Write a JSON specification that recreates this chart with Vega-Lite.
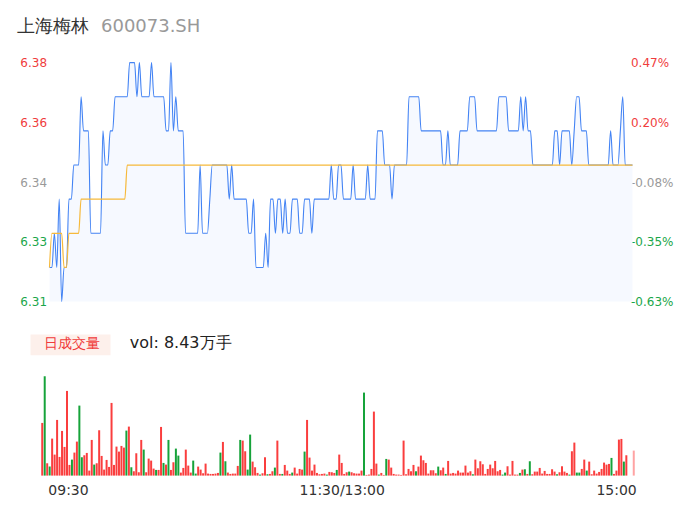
{
"$schema": "https://vega.github.io/schema/vega-lite/v6.json",
"padding": {"left": 16, "top": 17.6, "right": 5, "bottom": 5},
"background": "white",
"bounds": "flush",
"spacing": 74,
"config": {"view": {"stroke": null}, "font": "DejaVu Sans", "axis": {"grid": false, "domain": false, "ticks": false, "tickSize": 0, "title": null}},
"datasets": {
"price": [
{"i":0,"p":6.32,"a":6.32},{"i":1,"p":6.32,"a":6.33},{"i":2,"p":6.33,"a":6.33},{"i":3,"p":6.32,"a":6.33},{"i":4,"p":6.34,"a":6.33},{"i":5,"p":6.31,"a":6.33},{"i":6,"p":6.32,"a":6.32},{"i":7,"p":6.32,"a":6.32},{"i":8,"p":6.34,"a":6.33},{"i":9,"p":6.34,"a":6.33},
{"i":10,"p":6.35,"a":6.33},{"i":11,"p":6.35,"a":6.33},{"i":12,"p":6.35,"a":6.33},{"i":13,"p":6.37,"a":6.34},{"i":14,"p":6.36,"a":6.34},{"i":15,"p":6.36,"a":6.34},{"i":16,"p":6.36,"a":6.34},{"i":17,"p":6.33,"a":6.34},{"i":18,"p":6.33,"a":6.34},{"i":19,"p":6.33,"a":6.34},
{"i":20,"p":6.33,"a":6.34},{"i":21,"p":6.33,"a":6.34},{"i":22,"p":6.36,"a":6.34},{"i":23,"p":6.35,"a":6.34},{"i":24,"p":6.35,"a":6.34},{"i":25,"p":6.36,"a":6.34},{"i":26,"p":6.36,"a":6.34},{"i":27,"p":6.37,"a":6.34},{"i":28,"p":6.37,"a":6.34},{"i":29,"p":6.37,"a":6.34},
{"i":30,"p":6.37,"a":6.34},{"i":31,"p":6.37,"a":6.34},{"i":32,"p":6.37,"a":6.35},{"i":33,"p":6.38,"a":6.35},{"i":34,"p":6.38,"a":6.35},{"i":35,"p":6.38,"a":6.35},{"i":36,"p":6.37,"a":6.35},{"i":37,"p":6.38,"a":6.35},{"i":38,"p":6.37,"a":6.35},{"i":39,"p":6.37,"a":6.35},
{"i":40,"p":6.37,"a":6.35},{"i":41,"p":6.37,"a":6.35},{"i":42,"p":6.38,"a":6.35},{"i":43,"p":6.37,"a":6.35},{"i":44,"p":6.37,"a":6.35},{"i":45,"p":6.37,"a":6.35},{"i":46,"p":6.37,"a":6.35},{"i":47,"p":6.37,"a":6.35},{"i":48,"p":6.36,"a":6.35},{"i":49,"p":6.36,"a":6.35},
{"i":50,"p":6.38,"a":6.35},{"i":51,"p":6.36,"a":6.35},{"i":52,"p":6.37,"a":6.35},{"i":53,"p":6.36,"a":6.35},{"i":54,"p":6.36,"a":6.35},{"i":55,"p":6.36,"a":6.35},{"i":56,"p":6.33,"a":6.35},{"i":57,"p":6.33,"a":6.35},{"i":58,"p":6.33,"a":6.35},{"i":59,"p":6.33,"a":6.35},
{"i":60,"p":6.33,"a":6.35},{"i":61,"p":6.33,"a":6.35},{"i":62,"p":6.35,"a":6.35},{"i":63,"p":6.33,"a":6.35},{"i":64,"p":6.33,"a":6.35},{"i":65,"p":6.33,"a":6.35},{"i":66,"p":6.34,"a":6.35},{"i":67,"p":6.35,"a":6.35},{"i":68,"p":6.35,"a":6.35},{"i":69,"p":6.35,"a":6.35},
{"i":70,"p":6.35,"a":6.35},{"i":71,"p":6.35,"a":6.35},{"i":72,"p":6.35,"a":6.35},{"i":73,"p":6.35,"a":6.35},{"i":74,"p":6.34,"a":6.35},{"i":75,"p":6.35,"a":6.35},{"i":76,"p":6.34,"a":6.35},{"i":77,"p":6.34,"a":6.35},{"i":78,"p":6.34,"a":6.35},{"i":79,"p":6.34,"a":6.35},
{"i":80,"p":6.34,"a":6.35},{"i":81,"p":6.34,"a":6.35},{"i":82,"p":6.33,"a":6.35},{"i":83,"p":6.33,"a":6.35},{"i":84,"p":6.34,"a":6.35},{"i":85,"p":6.32,"a":6.35},{"i":86,"p":6.32,"a":6.35},{"i":87,"p":6.32,"a":6.35},{"i":88,"p":6.32,"a":6.35},{"i":89,"p":6.33,"a":6.35},
{"i":90,"p":6.32,"a":6.35},{"i":91,"p":6.34,"a":6.35},{"i":92,"p":6.34,"a":6.35},{"i":93,"p":6.33,"a":6.35},{"i":94,"p":6.34,"a":6.35},{"i":95,"p":6.34,"a":6.35},{"i":96,"p":6.33,"a":6.35},{"i":97,"p":6.34,"a":6.35},{"i":98,"p":6.33,"a":6.35},{"i":99,"p":6.33,"a":6.35},
{"i":100,"p":6.34,"a":6.35},{"i":101,"p":6.34,"a":6.35},{"i":102,"p":6.34,"a":6.35},{"i":103,"p":6.33,"a":6.35},{"i":104,"p":6.33,"a":6.35},{"i":105,"p":6.34,"a":6.35},{"i":106,"p":6.34,"a":6.35},{"i":107,"p":6.34,"a":6.35},{"i":108,"p":6.33,"a":6.35},{"i":109,"p":6.34,"a":6.35},
{"i":110,"p":6.34,"a":6.35},{"i":111,"p":6.34,"a":6.35},{"i":112,"p":6.34,"a":6.35},{"i":113,"p":6.34,"a":6.35},{"i":114,"p":6.34,"a":6.35},{"i":115,"p":6.34,"a":6.35},{"i":116,"p":6.35,"a":6.35},{"i":117,"p":6.34,"a":6.35},{"i":118,"p":6.34,"a":6.35},{"i":119,"p":6.35,"a":6.35},
{"i":120,"p":6.35,"a":6.35},{"i":121,"p":6.34,"a":6.35},{"i":122,"p":6.34,"a":6.35},{"i":123,"p":6.34,"a":6.35},{"i":124,"p":6.34,"a":6.35},{"i":125,"p":6.35,"a":6.35},{"i":126,"p":6.34,"a":6.35},{"i":127,"p":6.34,"a":6.35},{"i":128,"p":6.34,"a":6.35},{"i":129,"p":6.34,"a":6.35},
{"i":130,"p":6.34,"a":6.35},{"i":131,"p":6.35,"a":6.35},{"i":132,"p":6.34,"a":6.35},{"i":133,"p":6.34,"a":6.35},{"i":134,"p":6.34,"a":6.35},{"i":135,"p":6.36,"a":6.35},{"i":136,"p":6.36,"a":6.35},{"i":137,"p":6.36,"a":6.35},{"i":138,"p":6.35,"a":6.35},{"i":139,"p":6.35,"a":6.35},
{"i":140,"p":6.35,"a":6.35},{"i":141,"p":6.34,"a":6.35},{"i":142,"p":6.35,"a":6.35},{"i":143,"p":6.35,"a":6.35},{"i":144,"p":6.35,"a":6.35},{"i":145,"p":6.35,"a":6.35},{"i":146,"p":6.35,"a":6.35},{"i":147,"p":6.35,"a":6.35},{"i":148,"p":6.37,"a":6.35},{"i":149,"p":6.37,"a":6.35},
{"i":150,"p":6.37,"a":6.35},{"i":151,"p":6.37,"a":6.35},{"i":152,"p":6.37,"a":6.35},{"i":153,"p":6.36,"a":6.35},{"i":154,"p":6.36,"a":6.35},{"i":155,"p":6.36,"a":6.35},{"i":156,"p":6.36,"a":6.35},{"i":157,"p":6.36,"a":6.35},{"i":158,"p":6.36,"a":6.35},{"i":159,"p":6.36,"a":6.35},
{"i":160,"p":6.36,"a":6.35},{"i":161,"p":6.36,"a":6.35},{"i":162,"p":6.35,"a":6.35},{"i":163,"p":6.35,"a":6.35},{"i":164,"p":6.36,"a":6.35},{"i":165,"p":6.35,"a":6.35},{"i":166,"p":6.35,"a":6.35},{"i":167,"p":6.35,"a":6.35},{"i":168,"p":6.35,"a":6.35},{"i":169,"p":6.36,"a":6.35},
{"i":170,"p":6.36,"a":6.35},{"i":171,"p":6.36,"a":6.35},{"i":172,"p":6.36,"a":6.35},{"i":173,"p":6.37,"a":6.35},{"i":174,"p":6.37,"a":6.35},{"i":175,"p":6.37,"a":6.35},{"i":176,"p":6.36,"a":6.35},{"i":177,"p":6.36,"a":6.35},{"i":178,"p":6.36,"a":6.35},{"i":179,"p":6.36,"a":6.35},
{"i":180,"p":6.36,"a":6.35},{"i":181,"p":6.36,"a":6.35},{"i":182,"p":6.36,"a":6.35},{"i":183,"p":6.36,"a":6.35},{"i":184,"p":6.36,"a":6.35},{"i":185,"p":6.37,"a":6.35},{"i":186,"p":6.37,"a":6.35},{"i":187,"p":6.37,"a":6.35},{"i":188,"p":6.37,"a":6.35},{"i":189,"p":6.36,"a":6.35},
{"i":190,"p":6.36,"a":6.35},{"i":191,"p":6.36,"a":6.35},{"i":192,"p":6.36,"a":6.35},{"i":193,"p":6.36,"a":6.35},{"i":194,"p":6.37,"a":6.35},{"i":195,"p":6.36,"a":6.35},{"i":196,"p":6.37,"a":6.35},{"i":197,"p":6.36,"a":6.35},{"i":198,"p":6.36,"a":6.35},{"i":199,"p":6.35,"a":6.35},
{"i":200,"p":6.35,"a":6.35},{"i":201,"p":6.35,"a":6.35},{"i":202,"p":6.35,"a":6.35},{"i":203,"p":6.35,"a":6.35},{"i":204,"p":6.35,"a":6.35},{"i":205,"p":6.35,"a":6.35},{"i":206,"p":6.35,"a":6.35},{"i":207,"p":6.35,"a":6.35},{"i":208,"p":6.36,"a":6.35},{"i":209,"p":6.36,"a":6.35},
{"i":210,"p":6.35,"a":6.35},{"i":211,"p":6.36,"a":6.35},{"i":212,"p":6.36,"a":6.35},{"i":213,"p":6.36,"a":6.35},{"i":214,"p":6.36,"a":6.35},{"i":215,"p":6.35,"a":6.35},{"i":216,"p":6.36,"a":6.35},{"i":217,"p":6.37,"a":6.35},{"i":218,"p":6.37,"a":6.35},{"i":219,"p":6.36,"a":6.35},
{"i":220,"p":6.36,"a":6.35},{"i":221,"p":6.36,"a":6.35},{"i":222,"p":6.35,"a":6.35},{"i":223,"p":6.35,"a":6.35},{"i":224,"p":6.35,"a":6.35},{"i":225,"p":6.35,"a":6.35},{"i":226,"p":6.35,"a":6.35},{"i":227,"p":6.35,"a":6.35},{"i":228,"p":6.35,"a":6.35},{"i":229,"p":6.35,"a":6.35},
{"i":230,"p":6.35,"a":6.35},{"i":231,"p":6.36,"a":6.35},{"i":232,"p":6.35,"a":6.35},{"i":233,"p":6.35,"a":6.35},{"i":234,"p":6.35,"a":6.35},{"i":235,"p":6.36,"a":6.35},{"i":236,"p":6.37,"a":6.35},{"i":237,"p":6.35,"a":6.35},{"i":238,"p":6.35,"a":6.35},{"i":239,"p":6.35,"a":6.35},
{"i":240,"p":6.35,"a":6.35}
],
"vol": [
{"i":0,"v":158,"c":"r"},{"i":1,"v":298,"c":"g"},{"i":2,"v":37,"c":"r"},{"i":3,"v":27,"c":"g"},{"i":4,"v":111,"c":"r"},{"i":5,"v":63,"c":"r"},{"i":6,"v":167,"c":"r"},{"i":7,"v":56,"c":"r"},{"i":8,"v":134,"c":"r"},{"i":9,"v":86,"c":"r"},
{"i":10,"v":254,"c":"r"},{"i":11,"v":32,"c":"r"},{"i":12,"v":48,"c":"g"},{"i":13,"v":69,"c":"r"},{"i":14,"v":102,"c":"r"},{"i":15,"v":210,"c":"g"},{"i":16,"v":55,"c":"g"},{"i":17,"v":61,"c":"r"},{"i":18,"v":68,"c":"r"},{"i":19,"v":15,"c":"r"},
{"i":20,"v":107,"c":"r"},{"i":21,"v":33,"c":"g"},{"i":22,"v":37,"c":"r"},{"i":23,"v":136,"c":"r"},{"i":24,"v":59,"c":"r"},{"i":25,"v":18,"c":"r"},{"i":26,"v":47,"c":"r"},{"i":27,"v":26,"c":"r"},{"i":28,"v":218,"c":"r"},{"i":29,"v":32,"c":"r"},
{"i":30,"v":87,"c":"r"},{"i":31,"v":72,"c":"r"},{"i":32,"v":89,"c":"r"},{"i":33,"v":84,"c":"r"},{"i":34,"v":135,"c":"g"},{"i":35,"v":147,"c":"r"},{"i":36,"v":25,"c":"g"},{"i":37,"v":13,"c":"r"},{"i":38,"v":67,"c":"r"},{"i":39,"v":10,"c":"r"},
{"i":40,"v":107,"c":"r"},{"i":41,"v":78,"c":"g"},{"i":42,"v":10,"c":"r"},{"i":43,"v":51,"c":"r"},{"i":44,"v":45,"c":"r"},{"i":45,"v":21,"c":"r"},{"i":46,"v":17,"c":"g"},{"i":47,"v":17,"c":"r"},{"i":48,"v":146,"c":"r"},{"i":49,"v":38,"c":"g"},
{"i":50,"v":33,"c":"r"},{"i":51,"v":107,"c":"g"},{"i":52,"v":17,"c":"r"},{"i":53,"v":40,"c":"r"},{"i":54,"v":81,"c":"g"},{"i":55,"v":60,"c":"g"},{"i":56,"v":9,"c":"r"},{"i":57,"v":23,"c":"r"},{"i":58,"v":78,"c":"r"},{"i":59,"v":30,"c":"r"},
{"i":60,"v":9,"c":"r"},{"i":61,"v":45,"c":"g"},{"i":62,"v":6,"c":"g"},{"i":63,"v":27,"c":"r"},{"i":64,"v":18,"c":"r"},{"i":65,"v":7,"c":"r"},{"i":66,"v":36,"c":"r"},{"i":67,"v":6,"c":"r"},{"i":68,"v":5,"c":"r"},{"i":69,"v":5,"c":"r"},
{"i":70,"v":6,"c":"r"},{"i":71,"v":8,"c":"r"},{"i":72,"v":69,"c":"g"},{"i":73,"v":101,"c":"r"},{"i":74,"v":43,"c":"g"},{"i":75,"v":9,"c":"r"},{"i":76,"v":5,"c":"r"},{"i":77,"v":6,"c":"r"},{"i":78,"v":6,"c":"r"},{"i":79,"v":29,"c":"r"},
{"i":80,"v":107,"c":"g"},{"i":81,"v":105,"c":"r"},{"i":82,"v":73,"c":"r"},{"i":83,"v":18,"c":"g"},{"i":84,"v":123,"c":"g"},{"i":85,"v":42,"c":"r"},{"i":86,"v":25,"c":"r"},{"i":87,"v":8,"c":"r"},{"i":88,"v":3,"c":"g"},{"i":89,"v":7,"c":"r"},
{"i":90,"v":55,"c":"r"},{"i":91,"v":4,"c":"g"},{"i":92,"v":5,"c":"r"},{"i":93,"v":13,"c":"r"},{"i":94,"v":24,"c":"g"},{"i":95,"v":105,"c":"r"},{"i":96,"v":5,"c":"r"},{"i":97,"v":5,"c":"g"},{"i":98,"v":32,"c":"r"},{"i":99,"v":15,"c":"r"},
{"i":100,"v":5,"c":"r"},{"i":101,"v":9,"c":"g"},{"i":102,"v":24,"c":"r"},{"i":103,"v":6,"c":"r"},{"i":104,"v":20,"c":"r"},{"i":105,"v":18,"c":"r"},{"i":106,"v":72,"c":"g"},{"i":107,"v":167,"c":"r"},{"i":108,"v":54,"c":"r"},{"i":109,"v":15,"c":"r"},
{"i":110,"v":33,"c":"r"},{"i":111,"v":8,"c":"r"},{"i":112,"v":4,"c":"r"},{"i":113,"v":5,"c":"r"},{"i":114,"v":6,"c":"r"},{"i":115,"v":3,"c":"g"},{"i":116,"v":11,"c":"r"},{"i":117,"v":10,"c":"r"},{"i":118,"v":8,"c":"r"},{"i":119,"v":17,"c":"g"},
{"i":120,"v":63,"c":"r"},{"i":121,"v":38,"c":"r"},{"i":122,"v":5,"c":"r"},{"i":123,"v":10,"c":"r"},{"i":124,"v":12,"c":"g"},{"i":125,"v":10,"c":"r"},{"i":126,"v":7,"c":"r"},{"i":127,"v":6,"c":"r"},{"i":128,"v":6,"c":"r"},{"i":129,"v":15,"c":"r"},
{"i":130,"v":249,"c":"g"},{"i":131,"v":2,"c":"r"},{"i":132,"v":3,"c":"r"},{"i":133,"v":20,"c":"r"},{"i":134,"v":192,"c":"r"},{"i":135,"v":36,"c":"r"},{"i":136,"v":3,"c":"g"},{"i":137,"v":8,"c":"r"},{"i":138,"v":2,"c":"r"},{"i":139,"v":50,"c":"g"},
{"i":140,"v":48,"c":"r"},{"i":141,"v":24,"c":"r"},{"i":142,"v":5,"c":"r"},{"i":143,"v":3,"c":"r"},{"i":144,"v":3,"c":"r"},{"i":145,"v":2,"c":"r"},{"i":146,"v":105,"c":"r"},{"i":147,"v":4,"c":"r"},{"i":148,"v":20,"c":"r"},{"i":149,"v":13,"c":"r"},
{"i":150,"v":32,"c":"r"},{"i":151,"v":13,"c":"g"},{"i":152,"v":27,"c":"r"},{"i":153,"v":60,"c":"r"},{"i":154,"v":46,"c":"r"},{"i":155,"v":38,"c":"r"},{"i":156,"v":6,"c":"r"},{"i":157,"v":16,"c":"r"},{"i":158,"v":16,"c":"r"},{"i":159,"v":7,"c":"r"},
{"i":160,"v":27,"c":"g"},{"i":161,"v":16,"c":"r"},{"i":162,"v":24,"c":"r"},{"i":163,"v":5,"c":"g"},{"i":164,"v":44,"c":"r"},{"i":165,"v":6,"c":"r"},{"i":166,"v":8,"c":"r"},{"i":167,"v":6,"c":"r"},{"i":168,"v":15,"c":"r"},{"i":169,"v":9,"c":"r"},
{"i":170,"v":9,"c":"r"},{"i":171,"v":30,"c":"r"},{"i":172,"v":9,"c":"r"},{"i":173,"v":13,"c":"r"},{"i":174,"v":4,"c":"g"},{"i":175,"v":48,"c":"r"},{"i":176,"v":22,"c":"r"},{"i":177,"v":43,"c":"r"},{"i":178,"v":34,"c":"r"},{"i":179,"v":5,"c":"r"},
{"i":180,"v":20,"c":"r"},{"i":181,"v":33,"c":"r"},{"i":182,"v":22,"c":"r"},{"i":183,"v":44,"c":"r"},{"i":184,"v":13,"c":"r"},{"i":185,"v":17,"c":"r"},{"i":186,"v":3,"c":"g"},{"i":187,"v":9,"c":"g"},{"i":188,"v":28,"c":"r"},{"i":189,"v":3,"c":"r"},
{"i":190,"v":44,"c":"r"},{"i":191,"v":3,"c":"r"},{"i":192,"v":3,"c":"r"},{"i":193,"v":8,"c":"g"},{"i":194,"v":18,"c":"r"},{"i":195,"v":19,"c":"g"},{"i":196,"v":5,"c":"r"},{"i":197,"v":43,"c":"g"},{"i":198,"v":4,"c":"r"},{"i":199,"v":12,"c":"r"},
{"i":200,"v":12,"c":"r"},{"i":201,"v":23,"c":"r"},{"i":202,"v":6,"c":"r"},{"i":203,"v":14,"c":"r"},{"i":204,"v":5,"c":"r"},{"i":205,"v":5,"c":"r"},{"i":206,"v":19,"c":"r"},{"i":207,"v":12,"c":"r"},{"i":208,"v":4,"c":"g"},{"i":209,"v":10,"c":"r"},
{"i":210,"v":28,"c":"r"},{"i":211,"v":12,"c":"r"},{"i":212,"v":8,"c":"r"},{"i":213,"v":3,"c":"g"},{"i":214,"v":73,"c":"r"},{"i":215,"v":99,"c":"r"},{"i":216,"v":9,"c":"g"},{"i":217,"v":9,"c":"g"},{"i":218,"v":20,"c":"r"},{"i":219,"v":48,"c":"r"},
{"i":220,"v":15,"c":"g"},{"i":221,"v":42,"c":"r"},{"i":222,"v":4,"c":"r"},{"i":223,"v":15,"c":"r"},{"i":224,"v":6,"c":"r"},{"i":225,"v":11,"c":"r"},{"i":226,"v":20,"c":"r"},{"i":227,"v":39,"c":"r"},{"i":228,"v":33,"c":"r"},{"i":229,"v":35,"c":"r"},
{"i":230,"v":53,"c":"g"},{"i":231,"v":5,"c":"r"},{"i":232,"v":15,"c":"r"},{"i":233,"v":108,"c":"r"},{"i":234,"v":110,"c":"r"},{"i":235,"v":42,"c":"g"},{"i":236,"v":61,"c":"r"},{"i":237,"v":0,"c":"r"},{"i":238,"v":0,"c":"r"},{"i":239,"v":75,"c":"p"}
]
},
"vconcat": [
{
"width": 594, "height": 239,
"resolve": {"scale": {"y": "independent"}},
"layer": [
{"data": {"name": "price"},
 "mark": {"type": "area", "interpolate": "monotone", "color": "#f6f9ff"},
 "encoding": {
  "x": {"field": "i", "type": "quantitative", "scale": {"domain": [-3.5, 241.03], "nice": false, "zero": false, "padding": 0}, "axis": null},
  "y": {"field": "p", "type": "quantitative", "scale": {"domain": [6.31, 6.38], "nice": false, "zero": false},
        "axis": {"orient": "left", "values": [6.31, 6.3275, 6.345, 6.3625, 6.38], "offset": -7.5, "labelPadding": 2, "labelFontSize": 12,
                 "labelExpr": "datum.value > 6.37 ? '6.38' : datum.value > 6.36 ? '6.36' : datum.value > 6.34 ? '6.34' : datum.value > 6.32 ? '6.33' : '6.31'",
                 "labelColor": {"condition": [{"test": "datum.value > 6.35", "value": "#f03c3c"}, {"test": "datum.value < 6.34", "value": "#1aa64a"}], "value": "#999999"}}},
  "y2": {"datum": 6.31}
 }},
{"data": {"name": "price"},
 "mark": {"type": "line", "interpolate": "monotone", "color": "#4383f4", "strokeWidth": 1.1},
 "encoding": {
  "x": {"field": "i", "type": "quantitative", "scale": {"domain": [-3.5, 241.03], "nice": false, "zero": false, "padding": 0}, "axis": null},
  "y": {"field": "p", "type": "quantitative", "scale": {"domain": [6.31, 6.38], "nice": false, "zero": false}, "axis": null}
 }},
{"data": {"name": "price"},
 "mark": {"type": "line", "interpolate": "monotone", "color": "#f6b93b", "strokeWidth": 1.2},
 "encoding": {
  "x": {"field": "i", "type": "quantitative", "scale": {"domain": [-3.5, 241.03], "nice": false, "zero": false, "padding": 0}, "axis": null},
  "y": {"field": "a", "type": "quantitative", "scale": {"domain": [6.31, 6.38], "nice": false, "zero": false},
        "axis": {"orient": "right", "values": [6.31, 6.3275, 6.345, 6.3625, 6.38], "offset": -6.5, "labelPadding": 2, "labelFontSize": 12,
                 "labelExpr": "datum.value > 6.37 ? '0.47%' : datum.value > 6.36 ? '0.20%' : datum.value > 6.34 ? '-0.08%' : datum.value > 6.32 ? '-0.35%' : '-0.63%'",
                 "labelColor": {"condition": [{"test": "datum.value > 6.35", "value": "#f03c3c"}, {"test": "datum.value < 6.34", "value": "#1aa64a"}], "value": "#999999"}}}
 }},
{"data": {"values": [{}]},
 "mark": {"type": "text", "text": "上海梅林", "align": "left", "baseline": "alphabetic", "fontSize": 18, "color": "#333333"},
 "encoding": {
  "x": {"datum": -13.585, "type": "quantitative", "scale": {"domain": [-3.5, 241.03], "nice": false, "zero": false, "padding": 0}, "axis": null},
  "y": {"datum": 6.3889, "type": "quantitative", "scale": {"domain": [6.31, 6.38], "nice": false, "zero": false}, "axis": null}
 }},
{"data": {"values": [{}]},
 "mark": {"type": "text", "text": "600073.SH", "align": "left", "baseline": "alphabetic", "fontSize": 18, "color": "#999999"},
 "encoding": {
  "x": {"datum": 21.2, "type": "quantitative", "scale": {"domain": [-3.5, 241.03], "nice": false, "zero": false, "padding": 0}, "axis": null},
  "y": {"datum": 6.3889, "type": "quantitative", "scale": {"domain": [6.31, 6.38], "nice": false, "zero": false}, "axis": null}
 }}
]
},
{
"width": 594, "height": 100,
"layer": [
{"data": {"name": "vol"},
 "mark": {"type": "bar", "width": 2},
 "encoding": {
  "x": {"field": "i", "type": "quantitative", "scale": {"domain": [-0.5, 239.5], "nice": false, "zero": false, "padding": 0},
        "axis": {"orient": "bottom", "values": [0, 120, 239], "labelFontSize": 14, "labelColor": "#333333", "labelPadding": 8, "labelFlush": 5,
                 "labelOffset": {"condition": {"test": "datum.value == 0", "value": 5.6}, "value": 2.5},
                 "labelExpr": "datum.value == 0 ? '09:30' : datum.value == 239 ? '15:00' : '11:30/13:00'"}},
  "y": {"field": "v", "type": "quantitative", "scale": {"domain": [0, 300], "nice": false, "padding": 0}, "axis": null},
  "color": {"field": "c", "type": "nominal", "scale": {"domain": ["r", "g", "p"], "range": ["#fa3e3e", "#16a33a", "#ffa3a3"]}, "legend": null}
 }},
{"data": {"values": [{}]},
 "mark": {"type": "rect", "color": "#fdf0eb"},
 "encoding": {
  "x": {"datum": -4.74, "type": "quantitative", "scale": {"domain": [-0.5, 239.5], "nice": false, "zero": false, "padding": 0},
        "axis": {"orient": "bottom", "values": [0, 120, 239], "labelFontSize": 14, "labelColor": "#333333", "labelPadding": 8, "labelFlush": 5,
                 "labelOffset": {"condition": {"test": "datum.value == 0", "value": 5.6}, "value": 2.5},
                 "labelExpr": "datum.value == 0 ? '09:30' : datum.value == 239 ? '15:00' : '11:30/13:00'"}},
  "x2": {"datum": 27.58},
  "y": {"datum": 423, "type": "quantitative", "scale": {"domain": [0, 300], "nice": false, "padding": 0}, "axis": null},
  "y2": {"datum": 360.9}
 }},
{"data": {"values": [{}]},
 "mark": {"type": "text", "text": "日成交量", "align": "center", "baseline": "middle", "fontSize": 14, "color": "#f03c3c"},
 "encoding": {
  "x": {"datum": 12.11, "type": "quantitative", "scale": {"domain": [-0.5, 239.5], "nice": false, "zero": false, "padding": 0},
        "axis": {"orient": "bottom", "values": [0, 120, 239], "labelFontSize": 14, "labelColor": "#333333", "labelPadding": 8, "labelFlush": 5,
                 "labelOffset": {"condition": {"test": "datum.value == 0", "value": 5.6}, "value": 2.5},
                 "labelExpr": "datum.value == 0 ? '09:30' : datum.value == 239 ? '15:00' : '11:30/13:00'"}},
  "y": {"datum": 394.5, "type": "quantitative", "scale": {"domain": [0, 300], "nice": false, "padding": 0}, "axis": null}
 }},
{"data": {"values": [{}]},
 "mark": {"type": "text", "text": "vol: 8.43万手", "align": "left", "baseline": "middle", "fontSize": 16, "color": "#222222"},
 "encoding": {
  "x": {"datum": 35.38, "type": "quantitative", "scale": {"domain": [-0.5, 239.5], "nice": false, "zero": false, "padding": 0},
        "axis": {"orient": "bottom", "values": [0, 120, 239], "labelFontSize": 14, "labelColor": "#333333", "labelPadding": 8, "labelFlush": 5,
                 "labelOffset": {"condition": {"test": "datum.value == 0", "value": 5.6}, "value": 2.5},
                 "labelExpr": "datum.value == 0 ? '09:30' : datum.value == 239 ? '15:00' : '11:30/13:00'"}},
  "y": {"datum": 397.5, "type": "quantitative", "scale": {"domain": [0, 300], "nice": false, "padding": 0}, "axis": null}
 }}
]
}
]
}
